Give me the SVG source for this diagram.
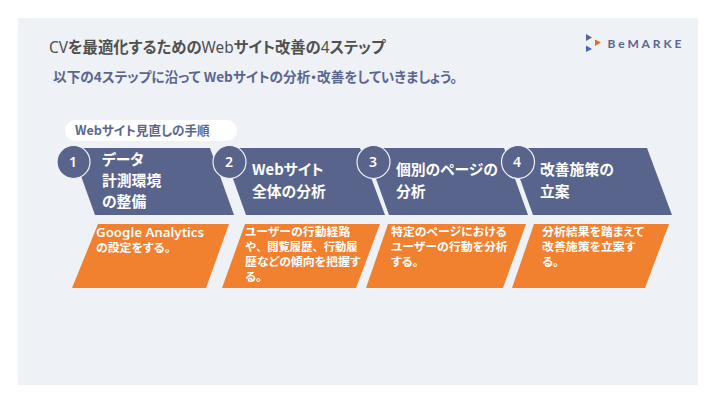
<svg xmlns="http://www.w3.org/2000/svg" width="717" height="400" viewBox="0 0 717 400">
<style>
text{font-family:"Noto Sans CJK JP","Noto Sans",sans-serif;font-weight:700;font-feature-settings:"palt"}
.s{fill:#59648c}
.o{fill:#f1802f}
.c{fill:#59648c;stroke:#f0f3f6;stroke-width:1.2}
.n{fill:#fff;font-family:"Noto Sans",sans-serif;font-size:14px;font-weight:600;text-anchor:middle}
.h{fill:#fff;font-size:14.8px}
.d{fill:#fff;font-size:11.9px}
.l{fill:#5b6690}
.r{font-family:"Noto Sans",sans-serif;font-weight:400}
</style>
<rect x="18" y="18" width="680" height="367" fill="#eef1f5"/>
<g id="title"><text x="49" y="53" font-size="15.35" fill="#505050"><tspan class="r">CV</tspan>を最適化するための<tspan class="r">Web</tspan>サイト改善の<tspan class="r">4</tspan>ステップ</text></g>
<g id="subtitle"><text x="53" y="82" font-size="13.65" class="l">以下の4ステップに沿って Webサイトの分析・改善をしていきましょう。</text></g>
<g id="logo">
<polygon points="586,34 592,37.500 586,41" fill="#59648c"/>
<polygon points="586,45.500 592,49 586,52" fill="#4466c0"/>
<polygon points="595,39.500 601,42.500 595,46" fill="#e2701a"/>
<text x="607.500" y="48" font-size="12" letter-spacing="2.9" style="font-family:Lato,sans-serif" class="l">BeMARKE</text>
</g>
<g id="pill"><rect x="65" y="120" width="172" height="21" rx="10.5" fill="#fff"/><text x="75" y="135" font-size="12.6" class="l">Webサイト見直しの手順</text></g>
<g id="step1">
<polygon class="s" points="71,148 210,148 234,215 95,215"/>
<circle class="c" cx="73.500" cy="162" r="16.500"/><text class="n" x="73" y="167">1</text>
<text class="h"><tspan x="102" y="165">データ</tspan><tspan x="102" y="186">計測環境</tspan><tspan x="102" y="207">の整備</tspan></text>
</g>
<g id="step2">
<polygon class="s" points="222,148 360,148 385,215 246,215"/>
<circle class="c" cx="229.500" cy="162" r="16.500"/><text class="n" x="229" y="167">2</text>
<text class="h"><tspan x="252" y="175">Webサイト</tspan><tspan x="252" y="197">全体の分析</tspan></text>
</g>
<g id="step3">
<polygon class="s" points="365,148 504,148 528,215 389,215"/>
<circle class="c" cx="373.500" cy="162" r="16.500"/><text class="n" x="373" y="167">3</text>
<text class="h"><tspan x="396" y="175">個別のページの</tspan><tspan x="396" y="197">分析</tspan></text>
</g>
<g id="step4">
<polygon class="s" points="509,148 647,148 672,215 533,215"/>
<circle class="c" cx="518" cy="162" r="16.500"/><text class="n" x="517" y="167">4</text>
<text class="h"><tspan x="540" y="175">改善施策の</tspan><tspan x="540" y="197">立案</tspan></text>
</g>
<g id="detail1">
<polygon class="o" points="98,224 229,224 206,288 72,288"/>
<text class="d"><tspan x="96" y="236.500" style="font-family:'Noto Sans',sans-serif;font-weight:600" font-size="13.3">Google Analytics</tspan><tspan x="96" y="252">の設定をする。</tspan></text>
</g>
<g id="detail2">
<polygon class="o" points="245,224 380,224 356,288 222,288"/>
<text class="d"><tspan x="245" y="236">ユーザーの行動経路</tspan><tspan x="245" y="251" style="font-feature-settings:normal" font-size="11.3">や、閲覧履歴、行動履</tspan><tspan x="245" y="266">歴などの傾向を把握す</tspan><tspan x="245" y="281">る。</tspan></text>
</g>
<g id="detail3">
<polygon class="o" points="388,224 526,224 503,288 366,288"/>
<text class="d"><tspan x="391" y="236">特定のページにおける</tspan><tspan x="391" y="251">ユーザーの行動を分析</tspan><tspan x="391" y="266">する。</tspan></text>
</g>
<g id="detail4">
<polygon class="o" points="534,224 669,224 645,288 512,288"/>
<text class="d"><tspan x="542" y="236">分析結果を踏まえて</tspan><tspan x="542" y="251">改善施策を立案す</tspan><tspan x="542" y="266">る。</tspan></text>
</g>
<g id="connectors"></g>
</svg>
